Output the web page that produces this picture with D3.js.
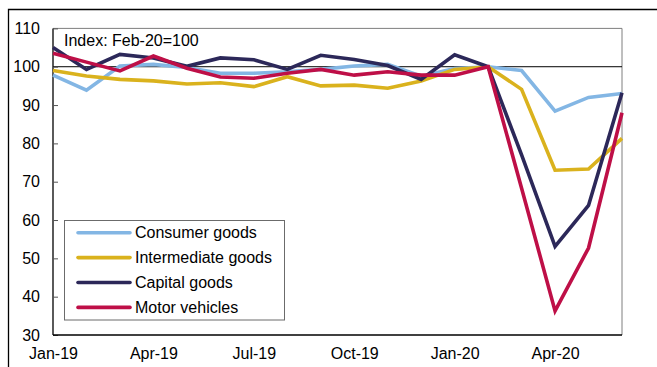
<!DOCTYPE html>
<html>
<head>
<meta charset="utf-8">
<script src="https://cdn.jsdelivr.net/npm/d3@7"></script>
<style>
  html, body { margin: 0; padding: 0; background: #fff; }
  svg { display: block; font-family: "Liberation Sans", Arial, sans-serif; }
</style>
</head>
<body>
<svg id="chart" width="657" height="367"></svg>
<script>
// Monthly index, Feb-20 = 100
const months = ["Jan-19","Feb-19","Mar-19","Apr-19","May-19","Jun-19","Jul-19","Aug-19","Sep-19","Oct-19","Nov-19","Dec-19",
                "Jan-20","Feb-20","Mar-20","Apr-20","May-20","Jun-20"];
const consumerGoods     = [97.8, 93.9, 100.2, 100.6, 99.8, 98.3, 98.3, 98.7, 99.3, 100.2, 100.6, 97.5, 99.5, 100, 99.0, 88.4, 92.0, 93.0];
const intermediateGoods = [99.0, 97.6, 96.7, 96.3, 95.5, 95.8, 94.8, 97.4, 95.0, 95.2, 94.4, 96.3, 99.3, 100, 94.1, 73.0, 73.3, 81.3];
const capitalGoods      = [105.0, 99.3, 103.2, 102.3, 100.1, 102.3, 101.8, 99.3, 103.0, 101.9, 100.3, 96.7, 103.1, 100, 77.0, 53.1, 63.8, 93.2];
const motorVehicles     = [103.5, 101.2, 98.9, 102.8, 99.6, 97.3, 97.0, 98.3, 99.3, 97.8, 98.7, 97.8, 97.8, 100, 68.3, 36.3, 52.7, 88.0];
const yTicks = [30, 40, 50, 60, 70, 80, 90, 100, 110];
const xTickLabels = ["Jan-19", "Apr-19", "Jul-19", "Oct-19", "Jan-20", "Apr-20"];

const seriesNames  = ["Consumer goods", "Intermediate goods", "Capital goods", "Motor vehicles"];
const seriesValues = [consumerGoods, intermediateGoods, capitalGoods, motorVehicles];
const seriesColors = ["#83B6E4", "#DAB21D", "#2C2859", "#BE0F47"];

const FONT = 16;
const svg = d3.select("#chart");
const plot = { left: 53, right: 622, top: 28.4, bottom: 335 };

const x = d3.scalePoint().domain(months).range([plot.left, plot.right]);
const y = d3.scaleLinear().domain([30, 110]).range([plot.bottom, plot.top]);

// outer frame
svg.append("path")
  .attr("d", "M8.5,367 V9.5 H657")
  .attr("fill", "none").attr("stroke", "#000").attr("stroke-width", 1.3);

// plot border (top/right)
svg.append("path")
  .attr("d", `M${plot.left},${plot.top} H${plot.right} V${plot.bottom}`)
  .attr("fill", "none").attr("stroke", "#7f7f7f").attr("stroke-width", 1);

// reference line at 100
svg.append("line")
  .attr("x1", plot.left).attr("x2", plot.right)
  .attr("y1", y(100)).attr("y2", y(100))
  .attr("stroke", "#000").attr("stroke-width", 1);

// y axis with inward ticks
const yAxis = d3.axisLeft(y).tickValues(yTicks).tickSize(-5).tickPadding(13).tickFormat(d3.format("d"));
const gy = svg.append("g").attr("transform", `translate(${plot.left},0)`).call(yAxis);
gy.select(".domain").attr("stroke", "#000").attr("stroke-width", 1.3).attr("d", `M0,${plot.top}V${plot.bottom}`);
gy.selectAll(".tick line").attr("stroke", "#555");
gy.selectAll(".tick text").attr("font-size", FONT).attr("fill", "#000")
  .attr("font-family", "Liberation Sans, Arial, sans-serif");

// x axis labels only
const xAxis = d3.axisBottom(x).tickValues(xTickLabels).tickSize(0).tickPadding(13);
const gx = svg.append("g").attr("transform", `translate(0,${plot.bottom})`).call(xAxis);
gx.select(".domain").attr("stroke", "#000").attr("stroke-width", 1.3).attr("d", `M${plot.left},0H${plot.right}`);
gx.selectAll(".tick text").attr("font-size", FONT).attr("fill", "#000")
  .attr("font-family", "Liberation Sans, Arial, sans-serif");

// series lines
const line = d3.line().x((d, i) => x(months[i])).y(d => y(d));
seriesValues.forEach((vals, k) => {
  svg.append("path")
    .datum(vals)
    .attr("d", line)
    .attr("fill", "none")
    .attr("stroke", seriesColors[k])
    .attr("stroke-width", 3.6)
    .attr("stroke-linejoin", "miter");
});

// index note
svg.append("text")
  .attr("x", 64).attr("y", 46)
  .attr("font-size", FONT).attr("fill", "#000")
  .text("Index: Feb-20=100");

// legend
const lg = svg.append("g");
lg.append("rect")
  .attr("x", 64.5).attr("y", 220.5).attr("width", 220).attr("height", 99.5)
  .attr("fill", "#fff").attr("stroke", "#6b6b6b").attr("stroke-width", 1);
seriesNames.forEach((name, k) => {
  const yy = 232.7 + k * 24.9;
  lg.append("line")
    .attr("x1", 78).attr("x2", 130).attr("y1", yy).attr("y2", yy)
    .attr("stroke", seriesColors[k]).attr("stroke-width", 3.6).attr("stroke-linecap", "round");
  lg.append("text")
    .attr("x", 135).attr("y", yy + 5.6)
    .attr("font-size", FONT).attr("fill", "#000")
    .text(name);
});
</script>
</body>
</html>
